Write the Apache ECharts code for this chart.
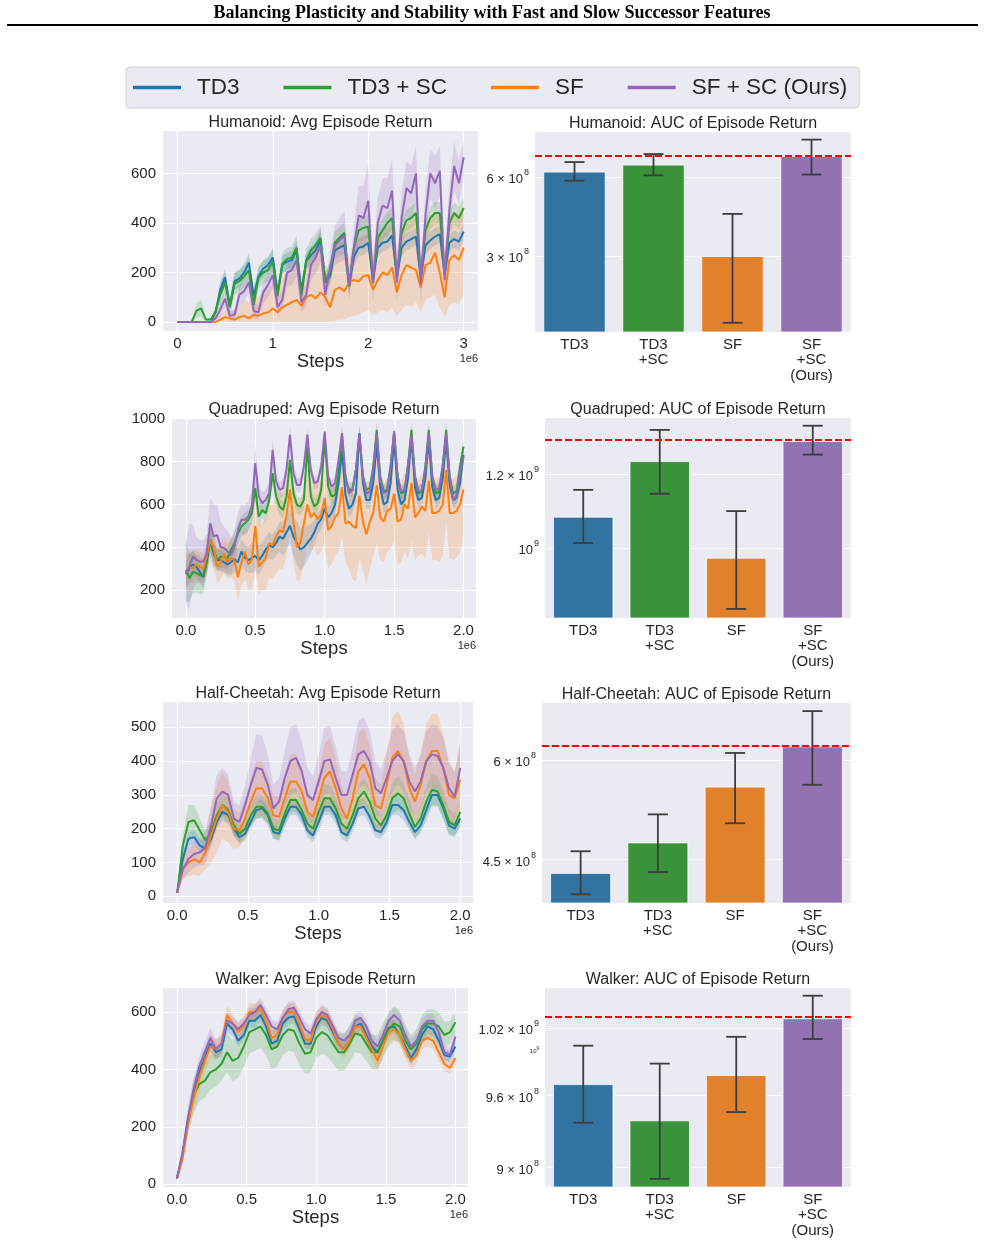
<!DOCTYPE html>
<html>
<head>
<meta charset="utf-8">
<script src="https://cdn.jsdelivr.net/npm/echarts@6.0.0/dist/echarts.min.js"></script>
<style>
  html, body { margin: 0; padding: 0; background: #fff; }
  #chart { width: 985px; height: 1242px; }
</style>
</head>
<body>
<div id="chart"></div>
<script>
// ---- data ----
const methodNames = ['TD3', 'TD3 + SC', 'SF', 'SF + SC (Ours)'];
const barCats = ['TD3', 'TD3\n+SC', 'SF', 'SF\n+SC\n(Ours)'];

// steps in units of 1e6
const humX = [0,0.05,0.1,0.15,0.2,0.25,0.3,0.35,0.4,0.45,0.5,0.55,0.6,0.65,0.7,0.75,0.8,0.85,0.9,0.95,1,1.05,1.1,1.15,1.2,1.25,1.3,1.35,1.4,1.45,1.5,1.55,1.6,1.65,1.7,1.75,1.8,1.85,1.9,1.95,2,2.05,2.1,2.15,2.2,2.25,2.3,2.35,2.4,2.45,2.5,2.55,2.6,2.65,2.7,2.75,2.8,2.85,2.9,2.95,3];
const humTD3 = [0,0,0,0,0,0,0,0,40,130,180,65,165,175,200,240,105,185,215,230,260,120,230,245,250,290,125,245,270,290,330,160,185,290,300,310,145,265,300,305,320,170,300,320,325,350,180,300,325,335,345,175,310,330,345,355,190,320,335,325,365];
const humTD3SC = [0,0,0,0,45,55,10,10,40,110,160,60,155,165,185,210,70,180,200,210,245,105,235,255,260,300,105,250,290,310,340,165,200,320,340,360,145,300,370,380,385,160,340,370,400,420,175,360,410,420,440,190,370,420,440,440,200,400,440,420,460];
const humSF = [0,0,0,0,0,0,0,0,0,10,20,15,10,20,25,15,30,25,35,40,55,40,60,70,80,90,65,100,110,95,120,100,60,130,140,125,160,170,165,185,190,130,170,200,190,220,120,190,230,220,210,140,230,240,280,200,100,250,270,250,300];
const humSFSC = [0,0,0,0,0,0,0,0,15,50,95,25,30,110,125,160,45,40,120,150,190,60,90,200,210,250,80,110,230,260,310,110,220,310,330,350,150,300,430,420,490,160,400,470,460,530,160,420,540,520,600,150,430,600,560,610,170,450,630,560,665];
const humTD3Sp = [0,0,0,0,0,0,0,0,15,35,35,25,35,35,35,40,30,35,35,35,40,30,35,35,35,40,30,35,35,35,40,35,35,35,35,35,30,35,35,35,35,35,35,35,35,35,35,35,35,35,35,35,35,35,35,35,35,35,35,35,35];
const humTD3SCSp = [0,0,0,0,30,35,5,5,20,45,45,35,45,45,45,50,35,45,45,45,50,35,45,45,45,50,35,45,45,45,50,40,40,45,45,45,40,45,45,45,45,40,45,45,45,45,40,45,45,45,45,40,45,45,45,45,40,45,45,45,45];
const humSFLo = [0,0,0,0,0,0,0,0,0,0,0,0,0,0,0,0,0,0,0,0,0,0,0,0,0,0,0,0,0,0,0,0,0,5,10,10,20,25,30,40,50,30,40,50,40,60,20,50,70,60,80,40,90,100,110,60,20,70,80,70,110];
const humSFHi = [0,0,0,0,0,0,0,0,5,30,50,40,50,70,90,80,110,100,120,130,160,120,180,200,220,250,170,250,270,280,320,230,200,310,320,330,250,320,340,350,370,270,350,380,380,400,280,380,400,410,420,280,400,420,440,440,280,430,440,440,470];
const humSFSCSp = [0,0,0,0,0,0,0,0,10,25,35,20,25,40,40,45,30,30,45,50,55,35,40,55,60,65,40,45,60,65,70,50,60,80,90,100,60,80,120,130,150,80,100,110,120,130,80,100,110,110,110,80,100,100,110,100,80,100,100,90,70];

const quadX = [0,0.025,0.05,0.075,0.1,0.125,0.15,0.175,0.2,0.225,0.25,0.275,0.3,0.325,0.35,0.375,0.4,0.425,0.45,0.475,0.5,0.525,0.55,0.575,0.6,0.625,0.65,0.675,0.7,0.725,0.75,0.775,0.8,0.825,0.85,0.875,0.9,0.925,0.95,0.975,1,1.025,1.05,1.075,1.1,1.125,1.15,1.175,1.2,1.225,1.25,1.275,1.3,1.325,1.35,1.375,1.4,1.425,1.45,1.475,1.5,1.525,1.55,1.575,1.6,1.625,1.65,1.675,1.7,1.725,1.75,1.775,1.8,1.825,1.85,1.875,1.9,1.925,1.95,1.975,2];
const quadTD3 = [275,300,320,310,285,260,330,430,370,340, 340,330,320,330,345,330,380,350,340,350, 360,340,360,390,410,400,420,450,440,470, 500,450,420,390,400,420,440,470,510,530, 580,540,560,600,700,850,640,580,600,650, 930,700,620,620,700,880,680,600,610,700, 900,670,600,620,720,910,680,620,630,720, 900,680,620,630,720,900,690,620,630,700, 830];
const quadTD3SC = [294,255,286,279,271,263,341,434,388,341, 356,356,349,388,419,465,497,512,528,559, 676,543,574,559,621,746,637,590,574,637, 808,652,598,590,621,870,637,590,605,668, 901,683,637,644,746,925,714,668,668,761, 932,730,668,676,777,948,730,660,668,777, 940,730,652,660,784,948,730,652,660,777, 948,730,652,660,777,948,730,652,660,777, 870];
const quadSF = [285,310,300,320,310,300,360,430,400,310, 330,370,330,350,340,260,330,380,320,340, 500,310,330,350,420,410,450,480,470,550, 670,520,400,420,510,600,540,560,530,550, 630,480,500,540,560,680,510,520,500,490, 640,520,460,520,560,690,540,520,570,580, 650,520,530,600,580,700,540,560,590,570, 710,560,560,570,600,760,560,560,570,600, 670];
const quadSFSC = [279,310,356,341,333,333,372,512,450,458, 403,395,380,364,403,481,528,528,543,590, 792,637,605,621,652,854,707,668,676,761, 925,746,691,691,777,925,761,699,707,777, 940,730,683,699,808,932,730,652,668,761, 932,730,652,660,761,932,714,652,660,777, 940,730,660,668,777,925,730,660,668,761, 932,730,668,676,777,932,730,621,637,746, 823];
const quadTD3Sp = [60,70,60,50,50,50,60,60,50,50, 50,50,50,60,60,60,60,60,60,70, 70,70,60,60,60,60,60,70,80,80, 80,90,100,100,90,80,70,60,50,50, 50,50,50,50,50,50,40,40,40,40, 40,40,40,40,40,40,40,40,40,40, 40,40,40,40,40,40,40,40,40,40, 40,40,40,40,40,40,40,40,40,40, 40];
const quadTD3SCSp = [150,110,100,90,90,80,70,60,50,50, 50,50,50,50,50,50,50,50,50,50, 60,50,40,40,40,60,40,40,40,40, 50,40,40,40,40,40,40,40,40,40, 40,40,40,40,40,40,35,35,35,35, 35,35,35,35,35,35,35,35,35,35, 35,35,35,35,35,35,35,35,35,35, 35,35,35,35,35,35,35,35,35,35, 40];
const quadSFLo = [200,240,230,250,240,230,280,330,300,230, 250,280,250,260,240,150,220,250,200,200, 300,180,200,200,260,250,280,300,300,360, 480,330,240,250,320,400,380,400,360,380, 420,300,320,360,380,450,330,300,250,240, 350,290,230,300,360,420,340,330,380,390, 430,320,330,380,350,430,340,360,370,340, 470,340,340,330,360,520,350,340,350,380, 450];
const quadSFHi = [370,380,380,390,380,370,440,520,480,390, 420,450,420,440,440,400,450,500,470,500, 700,500,520,530,600,600,640,660,650,720, 800,700,600,620,680,760,700,720,700,720, 780,660,680,700,720,800,680,690,680,670, 780,690,650,690,720,820,710,690,730,740, 800,690,700,750,740,840,710,720,740,730, 850,720,720,730,760,880,720,720,730,760, 780];
const quadSFSCSp = [150,200,150,110,100,100,90,120,150,140, 120,100,100,80,80,80,70,70,70,80, 90,60,50,50,50,50,40,40,40,40, 40,35,35,35,35,30,30,30,30,30, 30,30,30,30,30,30,30,30,30,30, 30,30,30,30,30,30,30,30,30,30, 30,30,30,30,30,30,30,30,30,30, 30,30,30,30,30,30,30,30,30,30, 30];

const cheetahX = [0,0.04,0.08,0.12,0.16,0.2,0.24,0.28,0.32,0.36,0.4,0.44,0.48,0.52,0.56,0.6,0.64,0.68,0.72,0.76,0.8,0.84,0.88,0.92,0.96,1,1.04,1.08,1.12,1.16,1.2,1.24,1.28,1.32,1.36,1.4,1.44,1.48,1.52,1.56,1.6,1.64,1.68,1.72,1.76,1.8,1.84,1.88,1.92,1.96,2];
const cheetahTD3 = [10,110,170,175,150,140,170,220,250,240, 200,175,185,220,255,260,240,190,185,230, 265,265,240,195,180,220,265,265,240,190, 180,215,260,265,235,195,190,220,270,270, 255,220,190,210,255,300,300,260,210,200, 230];
const cheetahTD3SC = [10,150,220,225,195,165,190,240,270,255, 210,185,200,240,265,265,245,200,195,245, 285,285,255,215,200,250,290,290,260,215, 200,240,290,310,280,230,210,240,290,305, 290,245,205,230,280,315,310,270,220,210, 250];
const cheetahSF = [10,80,100,110,100,130,180,230,270,250, 200,195,230,280,320,320,290,240,235,290, 340,340,310,250,235,290,350,370,320,260, 230,290,370,390,350,270,260,330,410,430, 400,320,280,330,400,430,430,380,300,290, 345];
const cheetahSFSC = [10,80,110,125,130,145,210,290,310,300, 230,220,270,330,380,375,330,260,280,350, 400,410,370,300,285,340,400,405,350,300, 300,360,420,430,400,320,305,350,400,420, 400,340,310,340,400,420,415,380,320,295, 380];
const cheetahTD3Sp = [0,15,20,20,20,20,20,20,25,25, 20,20,20,20,25,25,25,20,20,25, 25,25,25,20,20,25,25,25,25,20, 20,25,25,25,25,20,20,25,30,30, 30,25,20,25,30,30,30,30,25,20, 25];
const cheetahTD3SCSp = [0,30,50,45,35,30,30,35,35,35, 30,25,25,30,35,35,35,30,30,35, 35,35,35,30,30,35,40,40,35,30, 30,35,40,40,40,35,30,35,45,50, 45,40,35,35,45,50,45,45,40,35, 40];
const cheetahSFSp = [0,30,40,45,40,50,80,100,100,90, 60,50,60,70,80,80,70,60,60,70, 80,80,70,60,60,80,100,100,90,70, 60,80,110,110,100,80,70,90,120,120, 110,90,80,90,110,110,110,100,90,80, 100];
const cheetahSFSCSp = [0,30,40,40,40,50,60,70,70,60, 50,50,60,80,100,100,90,70,70,80, 100,100,90,80,70,80,100,100,90,70, 70,80,100,100,90,80,70,80,90,90, 90,80,70,80,90,90,90,90,80,70, 80];

const walkerX = [0,0.04,0.08,0.12,0.16,0.2,0.24,0.28,0.32,0.36,0.4,0.44,0.48,0.52,0.56,0.6,0.64,0.68,0.72,0.76,0.8,0.84,0.88,0.92,0.96,1,1.04,1.08,1.12,1.16,1.2,1.24,1.28,1.32,1.36,1.4,1.44,1.48,1.52,1.56,1.6,1.64,1.68,1.72,1.76,1.8,1.84,1.88,1.92,1.96,2];
const walkerTD3 = [20,100,220,320,390,440,490,460,470,560, 540,500,520,570,570,590,550,490,500,560, 580,585,540,490,490,550,580,570,530,490, 470,500,550,560,520,480,460,500,545,550, 520,480,440,470,520,550,540,500,450,445, 480];
const walkerTD3SC = [20,100,230,310,350,360,390,400,420,460, 430,440,480,530,540,550,520,470,480,520, 540,535,490,455,460,510,530,520,490,460, 460,490,525,520,490,460,460,500,540,560, 550,500,470,490,540,560,560,550,520,530, 565];
const walkerSF = [20,90,210,300,370,430,480,470,490,590, 560,530,550,600,600,610,570,510,520,580, 600,600,560,505,500,570,590,580,540,490, 470,500,550,550,510,470,430,480,530,540, 520,470,430,450,500,510,500,460,420,405, 440];
const walkerSFSC = [20,110,230,330,410,460,510,470,490,570, 560,540,560,590,600,625,590,550,540,580, 610,615,580,540,525,575,600,590,550,510, 500,520,570,580,550,500,480,520,570,590, 570,520,480,500,550,570,570,530,460,450, 515];
const walkerTD3Sp = [5,20,30,30,30,30,30,25,25,30, 25,20,20,25,25,25,25,20,20,25, 25,25,25,20,20,25,25,25,25,20, 20,25,25,25,25,20,20,25,25,25, 25,20,20,25,25,25,25,20,20,20, 20];
const walkerTD3SCSp = [5,20,40,60,60,60,60,60,60,70, 70,70,70,75,75,75,70,70,70,70, 75,75,75,70,70,70,75,75,70,65, 65,65,65,65,60,60,60,60,60,60, 55,55,50,50,50,50,50,50,45,40, 35];
const walkerSFSp = [5,30,40,50,50,45,40,35,35,35, 30,30,30,30,30,30,30,30,30,30, 30,30,30,30,30,30,30,30,30,30, 30,30,30,30,30,35,35,35,35,35, 35,30,30,30,30,30,30,30,25,20, 20];
const walkerSFSCSp = [5,25,35,35,35,35,35,30,30,30, 25,25,25,25,25,25,25,25,25,25, 25,25,25,25,25,25,25,25,25,25, 25,25,25,25,25,25,25,25,25,25, 25,25,25,25,25,25,25,25,25,25, 25];

// tick values / labels
const humXTicks = [0, 1, 2, 3];
const humXLabels = ['0', '1', '2', '3'];
const twoMXTicks = [0, 0.5, 1, 1.5, 2];
const twoMXLabels = ['0.0', '0.5', '1.0', '1.5', '2.0'];
const humYTicks = [0, 200, 400, 600];
const quadYTicks = [200, 400, 600, 800, 1000];
const cheetahYTicks = [0, 100, 200, 300, 400, 500];
const walkerYTicks = [0, 200, 400, 600];

// AUC bars (value, error low, error high, reference line)
const humAuc = [6.29e8, 6.69e8, 3.0e8, 7.22e8];
const humAucLo = [5.81e8, 6.09e8, 1.67e8, 6.13e8];
const humAucHi = [6.84e8, 7.34e8, 4.34e8, 8.33e8];
const humRef = 7.26e8;
const quadAuc = [1.080e9, 1.239e9, 9.76e8, 1.302e9];
const quadAucLo = [1.012e9, 1.143e9, 8.60e8, 1.259e9];
const quadAucHi = [1.154e9, 1.338e9, 1.095e9, 1.352e9];
const quadRef = 1.307e9;
const cheetahAuc = [4.33e8, 4.73e8, 5.56e8, 6.25e8];
const cheetahAucLo = [4.07e8, 4.34e8, 5.00e8, 5.59e8];
const cheetahAucHi = [4.61e8, 5.13e8, 6.13e8, 6.92e8];
const cheetahRef = 6.26e8;
const walkerAuc = [9.70e8, 9.39e8, 9.78e8, 1.029e9];
const walkerAucLo = [9.37e8, 8.91e8, 9.46e8, 1.010e9];
const walkerAucHi = [1.004e9, 9.88e8, 1.012e9, 1.050e9];
const walkerRef = 1.030e9;

const humBarTicks = [3e8, 6e8];
const humBarLabels = [['3 × 10', '8'], ['6 × 10', '8']];
const quadBarTicks = [1e9, 1.2e9];
const quadBarLabels = [['10', '9'], ['1.2 × 10', '9']];
const cheetahBarTicks = [4.5e8, 6e8];
const cheetahBarLabels = [['4.5 × 10', '8'], ['6 × 10', '8']];
const walkerBarTicks = [9e8, 9.6e8, 1e9, 1.02e9];
const walkerBarLabels = [['9 × 10', '8'], ['9.6 × 10', '8'], ['10', '9', 'minor'], ['1.02 × 10', '9']];
const walkerBarGrid = [9e8, 9.6e8, 1.02e9];

// ---- styling ----
const FONT = 'Liberation Sans';
const TXT = '#262626';
const BG = '#eaeaf2';
const lineColors = ['#1f77b4', '#2ca02c', '#ff7f0e', '#9467bd'];
const barColors = ['#3274a1', '#3a923a', '#e1812c', '#9372b2'];
const ERR = '#3d3d3d';

function spreadBand(xs, mean, sp) { return xs.map((x, i) => [x, mean[i] - sp[i], mean[i] + sp[i]]); }
function loHiBand(xs, lo, hi) { return xs.map((x, i) => [x, lo[i], hi[i]]); }
function findIdx(ticks, v) { return ticks.findIndex(t => Math.abs(t - v) <= Math.abs(t) * 1e-6 + 1e-9); }

const linePanels = [
  { title: 'Humanoid: Avg Episode Return', xs: humX,
    means: [humTD3, humTD3SC, humSF, humSFSC],
    bands: [spreadBand(humX, humTD3, humTD3Sp), spreadBand(humX, humTD3SC, humTD3SCSp), loHiBand(humX, humSFLo, humSFHi), spreadBand(humX, humSFSC, humSFSCSp)],
    xTicks: humXTicks, xLabels: humXLabels, yTicks: humYTicks, xRange: [-0.15, 3.15], yRange: [-36, 771],
    box: { left: 163, top: 131, width: 315, height: 200 } },
  { title: 'Quadruped: Avg Episode Return', xs: quadX,
    means: [quadTD3, quadTD3SC, quadSF, quadSFSC],
    bands: [spreadBand(quadX, quadTD3, quadTD3Sp), spreadBand(quadX, quadTD3SC, quadTD3SCSp), loHiBand(quadX, quadSFLo, quadSFHi), spreadBand(quadX, quadSFSC, quadSFSCSp)],
    xTicks: twoMXTicks, xLabels: twoMXLabels, yTicks: quadYTicks, xRange: [-0.1, 2.09], yRange: [70, 1003],
    box: { left: 172, top: 418, width: 304, height: 200 } },
  { title: 'Half-Cheetah: Avg Episode Return', xs: cheetahX,
    means: [cheetahTD3, cheetahTD3SC, cheetahSF, cheetahSFSC],
    bands: [spreadBand(cheetahX, cheetahTD3, cheetahTD3Sp), spreadBand(cheetahX, cheetahTD3SC, cheetahTD3SCSp), spreadBand(cheetahX, cheetahSF, cheetahSFSp), spreadBand(cheetahX, cheetahSFSC, cheetahSFSCSp)],
    xTicks: twoMXTicks, xLabels: twoMXLabels, yTicks: cheetahYTicks, xRange: [-0.1, 2.09], yRange: [-20, 575],
    box: { left: 163, top: 702, width: 310, height: 201 } },
  { title: 'Walker: Avg Episode Return', xs: walkerX,
    means: [walkerTD3, walkerTD3SC, walkerSF, walkerSFSC],
    bands: [spreadBand(walkerX, walkerTD3, walkerTD3Sp), spreadBand(walkerX, walkerTD3SC, walkerTD3SCSp), spreadBand(walkerX, walkerSF, walkerSFSp), spreadBand(walkerX, walkerSFSC, walkerSFSCSp)],
    xTicks: twoMXTicks, xLabels: twoMXLabels, yTicks: walkerYTicks, xRange: [-0.1, 2.09], yRange: [-10, 684],
    box: { left: 163, top: 988, width: 305, height: 199 } }
];

const barPanels = [
  { title: 'Humanoid: AUC of Episode Return', vals: humAuc, lo: humAucLo, hi: humAucHi, ref: humRef,
    ticks: humBarTicks, labels: humBarLabels, grid: humBarTicks, yRange: [1.54e8, 8.905e8],
    box: { left: 535, top: 132, width: 316, height: 200 } },
  { title: 'Quadruped: AUC of Episode Return', vals: quadAuc, lo: quadAucLo, hi: quadAucHi, ref: quadRef,
    ticks: quadBarTicks, labels: quadBarLabels, grid: quadBarTicks, yRange: [8.41e8, 1.378e9],
    box: { left: 545, top: 418, width: 306, height: 200 } },
  { title: 'Half-Cheetah: AUC of Episode Return', vals: cheetahAuc, lo: cheetahAucLo, hi: cheetahAucHi, ref: cheetahRef,
    ticks: cheetahBarTicks, labels: cheetahBarLabels, grid: cheetahBarTicks, yRange: [3.968e8, 7.085e8],
    box: { left: 542, top: 703, width: 309, height: 200 } },
  { title: 'Walker: AUC of Episode Return', vals: walkerAuc, lo: walkerAucLo, hi: walkerAucHi, ref: walkerRef,
    ticks: walkerBarTicks, labels: walkerBarLabels, grid: walkerBarGrid, yRange: [8.845e8, 1.0573e9],
    box: { left: 545, top: 988, width: 306, height: 199 } }
];

const grids = [], xAxes = [], yAxes = [], series = [];
const graphics = [
  { type: 'text', x: 492, y: 13, style: { text: 'Balancing Plasticity and Stability with Fast and Slow Successor Features',
      font: 'bold 18px "Liberation Serif"', fill: '#000', align: 'center', verticalAlign: 'middle', textAlign: 'center', textVerticalAlign: 'middle' } },
  { type: 'line', shape: { x1: 7, y1: 25, x2: 978, y2: 25 }, style: { stroke: '#000', lineWidth: 2 } }
];

function addTitle(text, box) {
  graphics.push({ type: 'text', x: box.left + box.width / 2, y: box.top - 8,
    style: { text, font: '16px "' + FONT + '"', fill: TXT, align: 'center', verticalAlign: 'middle', textAlign: 'center', textVerticalAlign: 'middle' } });
}

function bandRenderer(color) {
  return function (params, api) {
    if (params.dataIndexInside !== 0) return null;
    const n = params.dataInsideLength;
    const top = [], bot = [];
    for (let i = 0; i < n; i++) {
      const x = api.value(0, i);
      top.push(api.coord([x, api.value(2, i)]));
      bot.push(api.coord([x, api.value(1, i)]));
    }
    return { type: 'polygon', silent: true, shape: { points: top.concat(bot.reverse()) },
      style: { fill: color, opacity: 0.2 } };
  };
}

function renderErr(params, api) {
  const c = api.value(0);
  const lo = api.coord([c, api.value(1)]);
  const hi = api.coord([c, api.value(2)]);
  const cap = 10;
  const st = { stroke: ERR, lineWidth: 1.8 };
  return { type: 'group', children: [
    { type: 'line', shape: { x1: lo[0], y1: lo[1], x2: hi[0], y2: hi[1] }, style: st },
    { type: 'line', shape: { x1: lo[0] - cap, y1: lo[1], x2: lo[0] + cap, y2: lo[1] }, style: st },
    { type: 'line', shape: { x1: hi[0] - cap, y1: hi[1], x2: hi[0] + cap, y2: hi[1] }, style: st }
  ] };
}

linePanels.forEach(p => {
  const b = p.box;
  grids.push({ left: b.left, top: b.top, width: b.width, height: b.height, show: true, backgroundColor: BG, borderWidth: 0 });
  const gi = grids.length - 1;
  xAxes.push({ gridIndex: gi, type: 'value', min: p.xRange[0], max: p.xRange[1],
    axisLine: { show: false }, axisTick: { show: false, customValues: p.xTicks },
    axisLabel: { customValues: p.xTicks, formatter: v => p.xLabels[findIdx(p.xTicks, v)] || '',
      fontSize: 15, color: TXT, fontFamily: FONT, margin: 5 },
    splitLine: { show: true, lineStyle: { color: '#fff', width: 1.2 } },
    name: 'Steps', nameLocation: 'middle', nameGap: 21,
    nameTextStyle: { fontSize: 18.5, color: TXT, fontFamily: FONT } });
  yAxes.push({ gridIndex: gi, type: 'value', min: p.yRange[0], max: p.yRange[1],
    axisLine: { show: false }, axisTick: { show: false, customValues: p.yTicks },
    axisLabel: { customValues: p.yTicks, formatter: v => String(Math.round(v)),
      fontSize: 15, color: TXT, fontFamily: FONT, margin: 7 },
    splitLine: { show: true, lineStyle: { color: '#fff', width: 1.2 } } });
  p.bands.forEach((band, k) => {
    series.push({ type: 'custom', xAxisIndex: gi, yAxisIndex: gi, data: band, encode: { x: 0, y: [1, 2] },
      renderItem: bandRenderer(lineColors[k]), silent: true, z: 2 });
  });
  p.means.forEach((m, k) => {
    series.push({ type: 'line', name: methodNames[k], xAxisIndex: gi, yAxisIndex: gi,
      data: p.xs.map((x, i) => [x, m[i]]), showSymbol: false, symbol: 'none', silent: true,
      lineStyle: { width: 2, color: lineColors[k] }, itemStyle: { color: lineColors[k] }, z: 3 });
  });
  addTitle(p.title, b);
  graphics.push({ type: 'text', x: b.left + b.width, y: b.top + b.height + 28,
    style: { text: '1e6', font: '11px "' + FONT + '"', fill: TXT, align: 'right', verticalAlign: 'middle', textAlign: 'right', textVerticalAlign: 'middle' } });
});

const barRich = {
  m: { fontSize: 13, lineHeight: 18, color: TXT, fontFamily: FONT, verticalAlign: 'bottom' },
  e: { fontSize: 9, lineHeight: 9, color: TXT, fontFamily: FONT, verticalAlign: 'top', padding: [0, 0, 0, 1] },
  sm: { fontSize: 6, lineHeight: 8, color: TXT, fontFamily: FONT, verticalAlign: 'bottom' },
  se: { fontSize: 4.5, lineHeight: 4.5, color: TXT, fontFamily: FONT, verticalAlign: 'top' }
};

barPanels.forEach(p => {
  const b = p.box;
  grids.push({ left: b.left, top: b.top, width: b.width, height: b.height, show: true, backgroundColor: BG, borderWidth: 0 });
  const gi = grids.length - 1;
  xAxes.push({ gridIndex: gi, type: 'category', data: barCats,
    axisLine: { show: false }, axisTick: { show: false },
    axisLabel: { interval: 0, fontSize: 15, lineHeight: 15.5, color: TXT, fontFamily: FONT, margin: 5 },
    splitLine: { show: false } });
  yAxes.push({ gridIndex: gi, type: 'log', logBase: 10, min: p.yRange[0], max: p.yRange[1],
    axisLine: { show: false }, axisTick: { show: false, customValues: p.grid },
    axisLabel: { customValues: p.ticks, margin: 6, rich: barRich,
      formatter: v => {
        const lab = p.labels[findIdx(p.ticks, v)];
        if (!lab) return '';
        return lab[2] === 'minor' ? '{sm|' + lab[0] + '}{se|' + lab[1] + '}' : '{m|' + lab[0] + '}{e|' + lab[1] + '}';
      } },
    splitLine: { show: true, lineStyle: { color: '#fff', width: 1.2 } } });
  series.push({ type: 'bar', xAxisIndex: gi, yAxisIndex: gi, clip: true, barWidth: '79%', silent: true,
    data: p.vals.map((v, i) => ({ value: v, itemStyle: { color: barColors[i] } })),
    itemStyle: { borderColor: 'rgba(255,255,255,0.75)', borderWidth: 1 },
    markLine: { silent: true, symbol: ['none', 'none'], label: { show: false },
      lineStyle: { color: '#ff0000', type: [7, 3], width: 1.8 }, data: [{ yAxis: p.ref }] },
    z: 2 });
  series.push({ type: 'custom', xAxisIndex: gi, yAxisIndex: gi, silent: true, z: 4,
    data: p.vals.map((v, i) => [i, p.lo[i], p.hi[i]]), encode: { x: 0, y: [1, 2] },
    renderItem: renderErr });
  addTitle(p.title, b);
});

const chart = echarts.init(document.getElementById('chart'), null, { renderer: 'canvas' });
chart.setOption({
  animation: false,
  backgroundColor: '#fff',
  textStyle: { fontFamily: FONT, color: TXT },
  legend: {
    data: methodNames, left: 126, top: 67, padding: [9, 12, 9, 7], itemGap: 44,
    icon: 'rect', itemWidth: 48, itemHeight: 3.5,
    backgroundColor: BG, borderColor: '#cfcfd6', borderWidth: 1, borderRadius: 4,
    textStyle: { fontSize: 22.5, color: TXT, fontFamily: FONT, padding: [0, 0, 0, 11] },
    selectedMode: false
  },
  grid: grids,
  xAxis: xAxes,
  yAxis: yAxes,
  series: series,
  graphic: graphics
});
</script>
</body>
</html>
